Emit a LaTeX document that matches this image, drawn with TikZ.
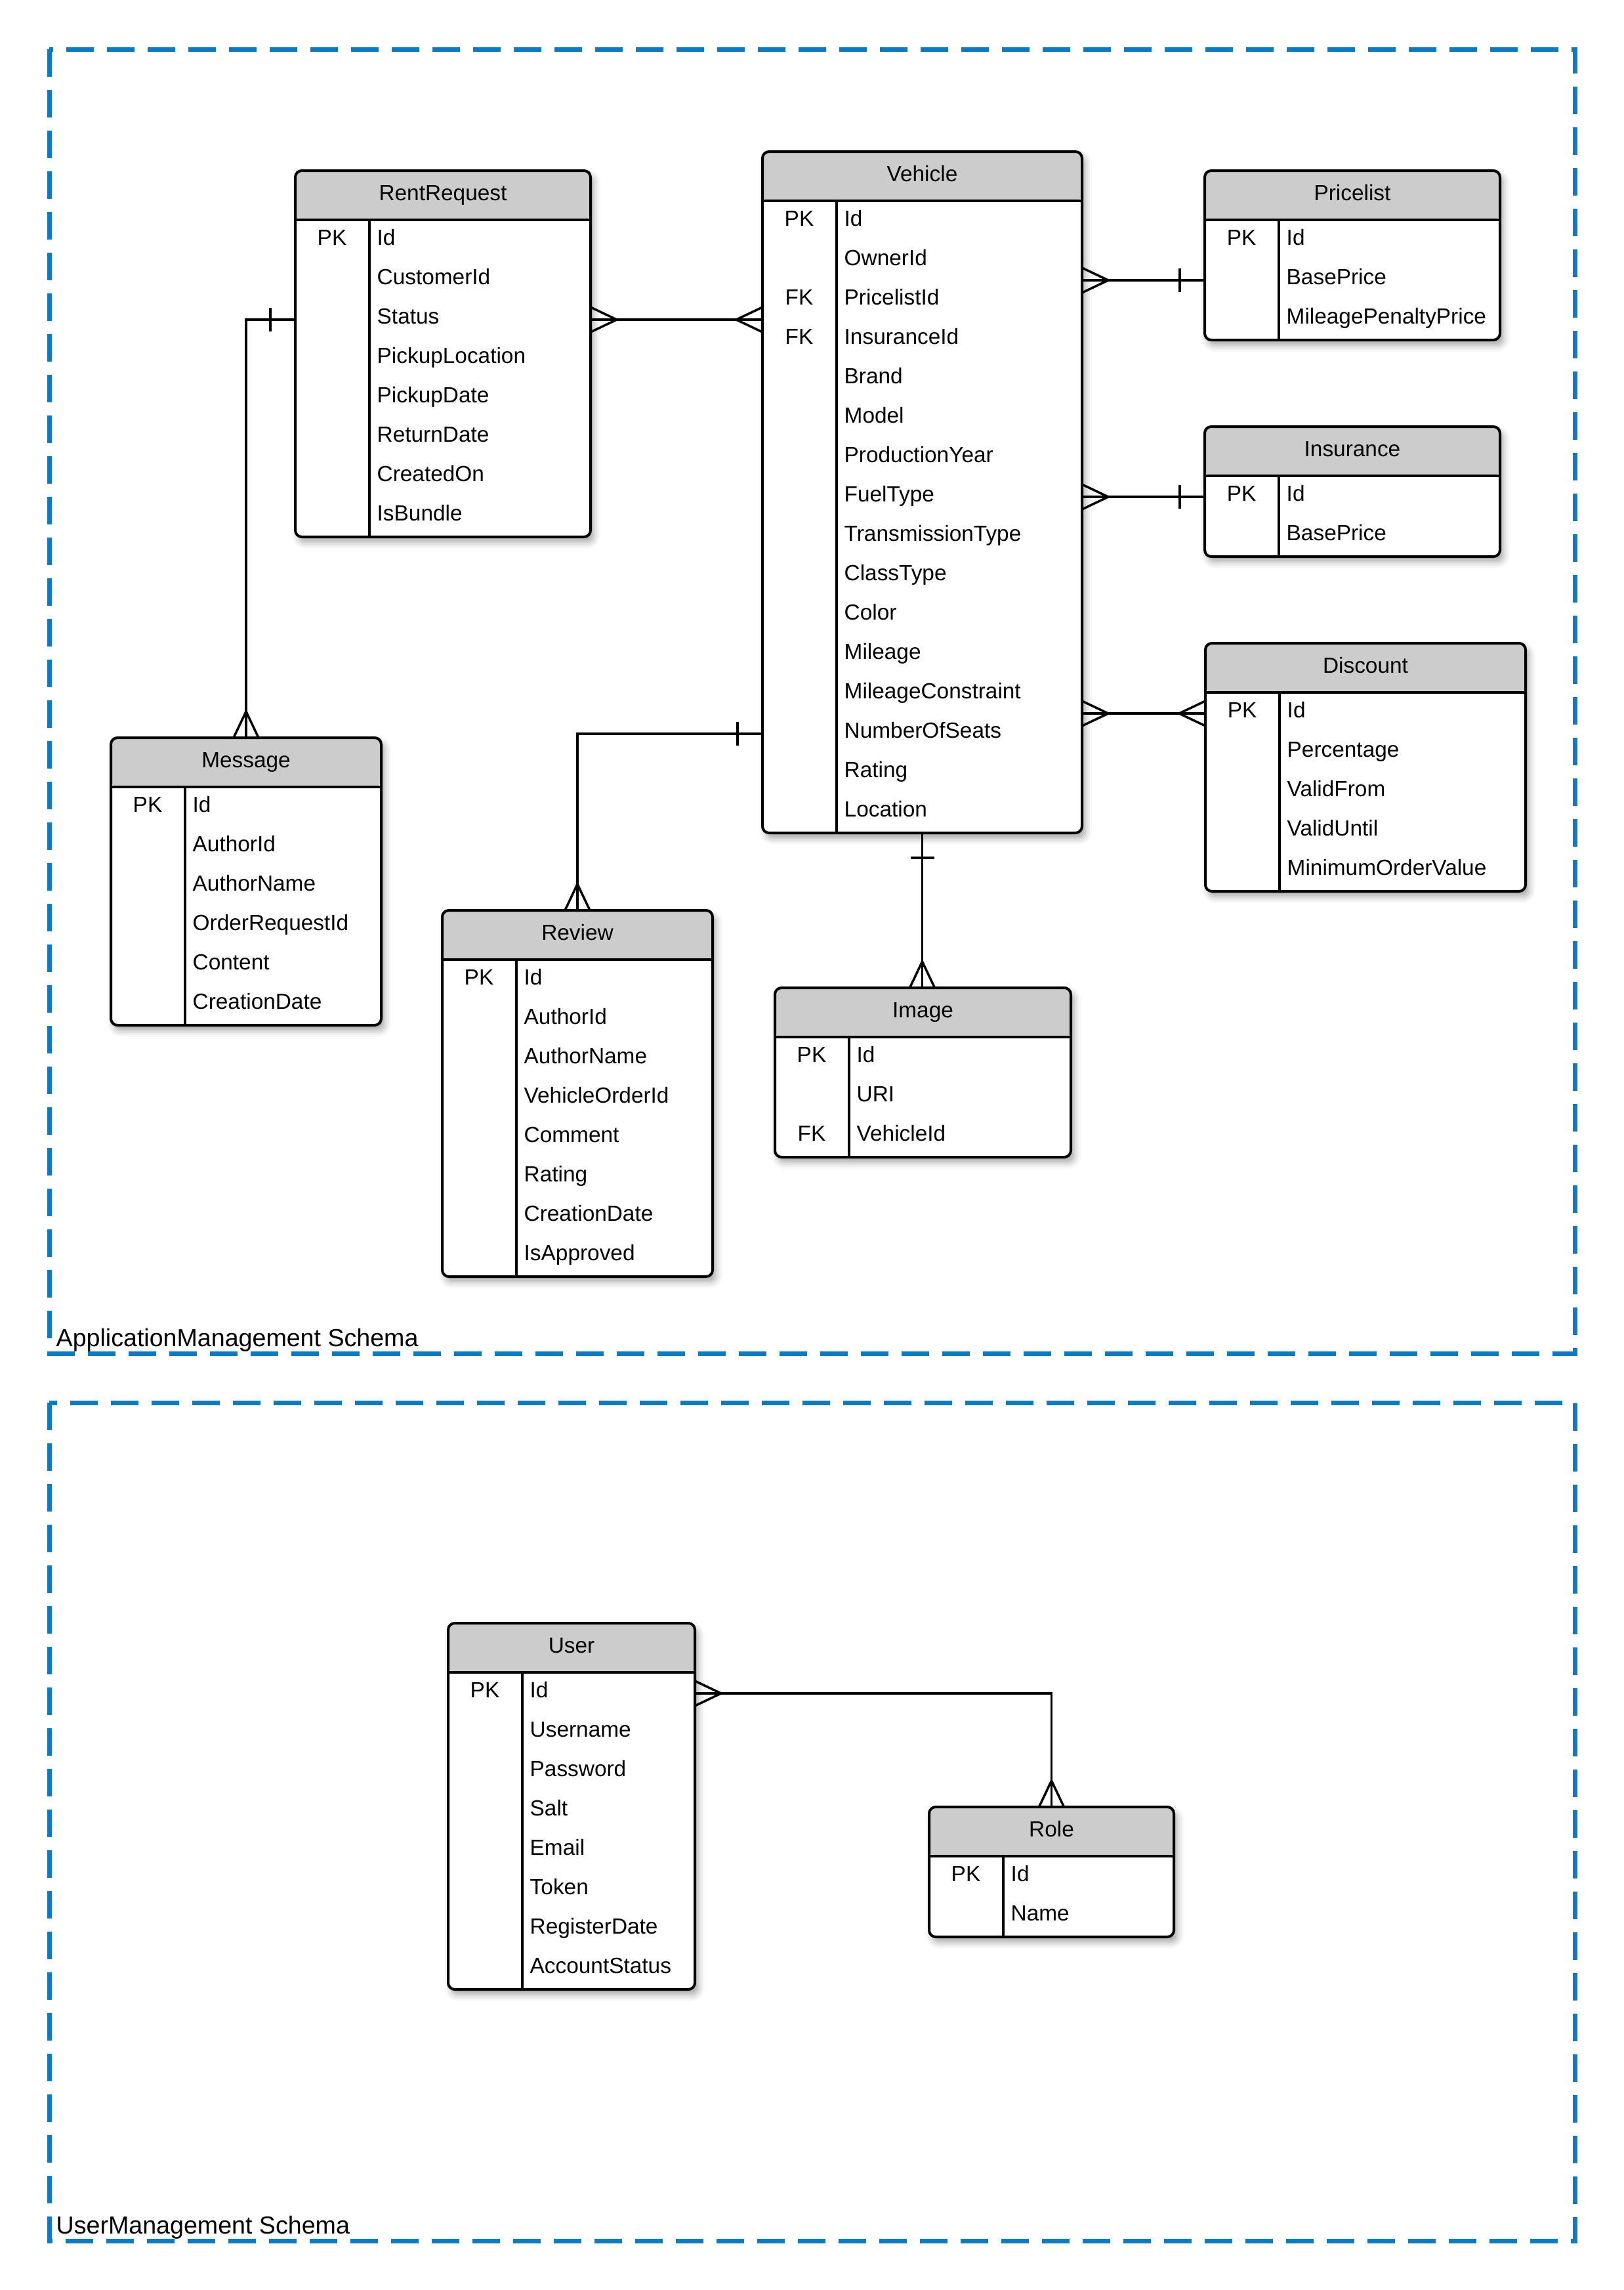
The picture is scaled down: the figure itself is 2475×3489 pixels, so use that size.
\documentclass[tikz,border=0pt]{standalone}
\usepackage{fontspec}
\setmainfont{Liberation Sans}
\usetikzlibrary{calc,shadows.blur,decorations.markings}
\definecolor{schemablue}{RGB}{17,122,191}
\definecolor{hdrgray}{RGB}{204,204,204}

\begin{document}
\begin{tikzpicture}[x=0.1mm,y=-0.1mm,font=\fontsize{9.5}{11}\selectfont,
  schema/.style={draw=schemablue,line width=0.7mm,dash pattern=on 4.2mm off 2mm},
  lbl/.style={font=\fontsize{10.7}{12}\selectfont,anchor=base west,inner sep=0},
  tbl/.style 2 args={draw,line width=0.4mm,rounded corners=1mm,fill=white,
    inner sep=0,outer sep=0,anchor=north west,minimum width=#1,minimum height=#2,
    blur shadow={shadow xshift=0.5mm,shadow yshift=-0.8mm,shadow blur radius=1mm,shadow opacity=35},
    path picture={
      \fill[hdrgray] (path picture bounding box.north west) rectangle ([yshift=-7.5mm]path picture bounding box.north east);
      \draw[line width=0.4mm] ([yshift=-7.5mm]path picture bounding box.north west) -- ([yshift=-7.5mm]path picture bounding box.north east);
      \draw[line width=0.4mm] ([xshift=11.3mm,yshift=-7.5mm]path picture bounding box.north west) -- ([xshift=11.3mm]path picture bounding box.south west);}},
  ttl/.style={inner sep=0,text height=2.6mm,text depth=1.4mm},
  fld/.style={ttl,anchor=west},
  key/.style={ttl},
  rel/.style={line width=0.35mm},
  many at start/.style={postaction={decorate,decoration={markings,
      mark=at position 0 with {\draw[rel] (0,1.9mm) -- (4mm,0) -- (0,-1.9mm);}}}},
  many at end/.style={postaction={decorate,decoration={markings,
      mark=at position 1 with {\draw[rel] (0,1.9mm) -- (-4mm,0) -- (0,-1.9mm);}}}},
  one at start/.style={postaction={decorate,decoration={markings,
      mark=at position 0 with {\draw[rel] (3.8mm,1.8mm) -- (3.8mm,-1.8mm);}}}},
  one at end/.style={postaction={decorate,decoration={markings,
      mark=at position 1 with {\draw[rel] (-3.8mm,1.8mm) -- (-3.8mm,-1.8mm);}}}}]
  \useasboundingbox (0,0) rectangle (2475,3489);

  \draw[schema] (75,75) rectangle (2400,2062);
  \draw[schema] (75,2137) rectangle (2400,3414);
  \node[lbl] (appLbl) at (85,2051) {ApplicationManagement Schema};
  \node[lbl] (userLbl) at (85,3403) {UserManagement Schema};

  \node[tbl={45mm}{55.8mm}] (rr) at (450,260) {};
  \node[ttl] (rr-t) at ($(rr.north)+(0,39)$) {RentRequest};
  \foreach \k/\f [count=\i] in {PK/Id,{}/CustomerId,{}/Status,{}/PickupLocation,{}/PickupDate,{}/ReturnDate,{}/CreatedOn,{}/IsBundle}{
    \node[key] (rr-k\i) at ($(rr.north west)+(56,47+60*\i)$) {\k};
    \node[fld] (rr-\i) at ($(rr.north west)+(124,47+60*\i)$) {\f};
  }

  \node[tbl={48.7mm}{103.8mm}] (veh) at (1162,231) {};
  \node[ttl] (veh-t) at ($(veh.north)+(0,39)$) {Vehicle};
  \foreach \k/\f [count=\i] in {PK/Id,{}/OwnerId,FK/PricelistId,FK/InsuranceId,{}/Brand,{}/Model,{}/ProductionYear,{}/FuelType,{}/TransmissionType,{}/ClassType,{}/Color,{}/Mileage,{}/MileageConstraint,{}/NumberOfSeats,{}/Rating,{}/Location}{
    \node[key] (veh-k\i) at ($(veh.north west)+(56,47+60*\i)$) {\k};
    \node[fld] (veh-\i) at ($(veh.north west)+(124,47+60*\i)$) {\f};
  }

  \node[tbl={45mm}{25.8mm}] (price) at (1836,260) {};
  \node[ttl] (price-t) at ($(price.north)+(0,39)$) {Pricelist};
  \foreach \k/\f [count=\i] in {PK/Id,{}/BasePrice,{}/MileagePenaltyPrice}{
    \node[key] (price-k\i) at ($(price.north west)+(56,47+60*\i)$) {\k};
    \node[fld] (price-\i) at ($(price.north west)+(124,47+60*\i)$) {\f};
  }

  \node[tbl={45mm}{19.8mm}] (ins) at (1836,650) {};
  \node[ttl] (ins-t) at ($(ins.north)+(0,39)$) {Insurance};
  \foreach \k/\f [count=\i] in {PK/Id,{}/BasePrice}{
    \node[key] (ins-k\i) at ($(ins.north west)+(56,47+60*\i)$) {\k};
    \node[fld] (ins-\i) at ($(ins.north west)+(124,47+60*\i)$) {\f};
  }

  \node[tbl={48.8mm}{37.8mm}] (disc) at (1837,980) {};
  \node[ttl] (disc-t) at ($(disc.north)+(0,39)$) {Discount};
  \foreach \k/\f [count=\i] in {PK/Id,{}/Percentage,{}/ValidFrom,{}/ValidUntil,{}/MinimumOrderValue}{
    \node[key] (disc-k\i) at ($(disc.north west)+(56,47+60*\i)$) {\k};
    \node[fld] (disc-\i) at ($(disc.north west)+(124,47+60*\i)$) {\f};
  }

  \node[tbl={41.2mm}{43.8mm}] (msg) at (169,1124) {};
  \node[ttl] (msg-t) at ($(msg.north)+(0,39)$) {Message};
  \foreach \k/\f [count=\i] in {PK/Id,{}/AuthorId,{}/AuthorName,{}/OrderRequestId,{}/Content,{}/CreationDate}{
    \node[key] (msg-k\i) at ($(msg.north west)+(56,47+60*\i)$) {\k};
    \node[fld] (msg-\i) at ($(msg.north west)+(124,47+60*\i)$) {\f};
  }

  \node[tbl={41.2mm}{55.8mm}] (rev) at (674,1387) {};
  \node[ttl] (rev-t) at ($(rev.north)+(0,39)$) {Review};
  \foreach \k/\f [count=\i] in {PK/Id,{}/AuthorId,{}/AuthorName,{}/VehicleOrderId,{}/Comment,{}/Rating,{}/CreationDate,{}/IsApproved}{
    \node[key] (rev-k\i) at ($(rev.north west)+(56,47+60*\i)$) {\k};
    \node[fld] (rev-\i) at ($(rev.north west)+(124,47+60*\i)$) {\f};
  }

  \node[tbl={45.1mm}{25.8mm}] (img) at (1181,1505) {};
  \node[ttl] (img-t) at ($(img.north)+(0,39)$) {Image};
  \foreach \k/\f [count=\i] in {PK/Id,{}/URI,FK/VehicleId}{
    \node[key] (img-k\i) at ($(img.north west)+(56,47+60*\i)$) {\k};
    \node[fld] (img-\i) at ($(img.north west)+(124,47+60*\i)$) {\f};
  }

  \node[tbl={37.6mm}{55.8mm}] (user) at (683,2473) {};
  \node[ttl] (user-t) at ($(user.north)+(0,39)$) {User};
  \foreach \k/\f [count=\i] in {PK/Id,{}/Username,{}/Password,{}/Salt,{}/Email,{}/Token,{}/RegisterDate,{}/AccountStatus}{
    \node[key] (user-k\i) at ($(user.north west)+(56,47+60*\i)$) {\k};
    \node[fld] (user-\i) at ($(user.north west)+(124,47+60*\i)$) {\f};
  }

  \node[tbl={37.3mm}{19.8mm}] (role) at (1416,2753) {};
  \node[ttl] (role-t) at ($(role.north)+(0,39)$) {Role};
  \foreach \k/\f [count=\i] in {PK/Id,{}/Name}{
    \node[key] (role-k\i) at ($(role.north west)+(56,47+60*\i)$) {\k};
    \node[fld] (role-\i) at ($(role.north west)+(124,47+60*\i)$) {\f};
  }

  \draw[rel,many at start,many at end] (rr.east |- rr-3) -- (veh.west |- rr-3);
  \draw[rel,one at start,many at end] (rr.west |- rr-3) -| (msg.north);
  \draw[rel,many at start,one at end] (veh.east |- price-2) -- (price.west |- price-2);
  \draw[rel,many at start,one at end] (veh.east |- ins-1) -- (ins.west |- ins-1);
  \draw[rel,many at start,many at end] (veh.east |- disc-1) -- (disc.west |- disc-1);
  \draw[rel,one at start,many at end] (veh.west |- veh-14) -| (rev.north);
  \draw[rel,one at start,many at end] (veh.south) -- (veh.south |- img.north);
  \draw[rel,many at start,many at end] (user.east |- user-1) -| (role.north);
\end{tikzpicture}
\end{document}
